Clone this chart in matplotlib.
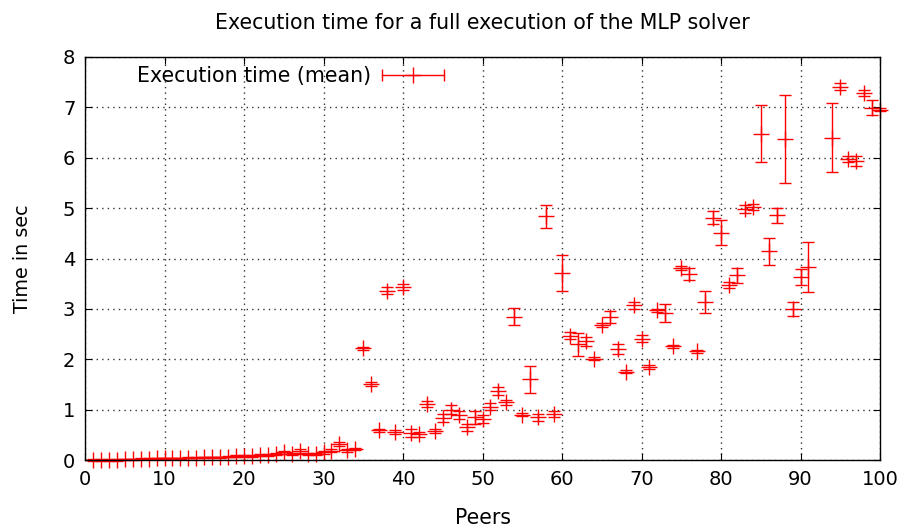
import matplotlib
matplotlib.use("Agg")
import matplotlib.pyplot as plt
from matplotlib.lines import Line2D
from matplotlib.legend_handler import HandlerBase

# mean execution time per number of peers, with std deviation
peers = list(range(1, 92)) + [94, 95, 96, 97, 98, 99, 100]
times = [0.00, 0.00, 0.00, 0.00, 0.01, 0.01, 0.02, 0.02, 0.03, 0.03,
         0.03, 0.03, 0.04, 0.04, 0.05, 0.05, 0.05, 0.06, 0.07, 0.08,
         0.08, 0.09, 0.10, 0.12, 0.15, 0.11, 0.18, 0.11, 0.12, 0.15,
         0.18, 0.31, 0.19, 0.21, 2.22, 1.50, 0.59, 3.36, 0.55, 3.44,
         0.54, 0.51, 1.11, 0.57, 0.84, 1.00, 0.90, 0.65, 0.85, 0.82,
         1.06, 1.37, 1.15, 2.84, 0.90, 1.60, 0.85, 4.84, 0.92, 3.71,
         2.47, 2.30, 2.36, 2.01, 2.68, 2.84, 2.21, 1.75, 3.07, 2.41,
         1.85, 2.97, 2.92, 2.26, 3.81, 3.70, 2.16, 3.14, 4.81, 4.51,
         3.47, 3.67, 4.99, 5.03, 6.48, 4.14, 4.86, 6.37, 2.99, 3.63,
         3.83, 6.40, 7.41, 5.97, 5.94, 7.28, 6.99, 6.95]
errors = [0.01, 0.01, 0.01, 0.01, 0.01, 0.01, 0.01, 0.01, 0.01, 0.01,
          0.01, 0.01, 0.01, 0.01, 0.01, 0.01, 0.01, 0.01, 0.02, 0.02,
          0.02, 0.02, 0.02, 0.02, 0.03, 0.02, 0.04, 0.02, 0.02, 0.03,
          0.03, 0.04, 0.03, 0.02, 0.03, 0.04, 0.03, 0.07, 0.04, 0.06,
          0.08, 0.05, 0.06, 0.04, 0.08, 0.09, 0.08, 0.07, 0.13, 0.08,
          0.07, 0.07, 0.05, 0.17, 0.03, 0.27, 0.07, 0.23, 0.06, 0.36,
          0.07, 0.23, 0.09, 0.03, 0.04, 0.12, 0.10, 0.03, 0.07, 0.07,
          0.04, 0.03, 0.18, 0.03, 0.04, 0.12, 0.03, 0.22, 0.13, 0.25,
          0.06, 0.15, 0.08, 0.06, 0.56, 0.26, 0.15, 0.88, 0.14, 0.16,
          0.50, 0.69, 0.07, 0.06, 0.10, 0.06, 0.15, 0.03]


class ErrorKey(HandlerBase):
    # gnuplot-like key sample: horizontal bar with end ticks and a "+"
    def create_artists(self, legend, orig_handle, xdescent, ydescent,
                       width, height, fontsize, trans):
        y = 0.5 * height - ydescent
        x0, x1 = -xdescent, width - xdescent
        bar = Line2D([x0, x1], [y, y], color="red", lw=1)
        ends = Line2D([x0, x1], [y, y], ls="none", marker="|", ms=9,
                      mew=1, color="red")
        plus = Line2D([(x0 + x1) / 2], [y], ls="none", marker="+", ms=11.5,
                      mew=1, color="red")
        for a in (bar, ends, plus):
            a.set_transform(trans)
        return [bar, ends, plus]


fig = plt.figure(figsize=(9.06, 5.29), dpi=100)
ax = fig.add_axes([85 / 906, 1 - 460 / 529, 795 / 906, 403 / 529])

eb = ax.errorbar(peers, times, yerr=errors, fmt="+", color="red", ms=11.5,
                 mew=1, elinewidth=1, capsize=4, capthick=1)
for art in eb.get_children():
    art.set_clip_on(False)

ax.set_xlim(0, 100)
ax.set_ylim(0, 8)
ax.set_xticks(range(0, 101, 10))
ax.set_yticks(range(0, 9))
ax.grid(True, ls=(0, (1, 3)), color="0.2", lw=1)
ax.set_axisbelow(True)
ax.tick_params(direction="in", length=5, top=True, right=True,
               labelsize=14, pad=7)
for s in ax.spines.values():
    s.set_linewidth(1)

ax.set_title("Execution time for a full execution of the MLP solver",
             fontsize=14.8, pad=20)
ax.set_xlabel("Peers", fontsize=14.8, labelpad=14)
ax.set_ylabel("Time in sec", fontsize=13.8, labelpad=22)

proxy = Line2D([], [], color="red")
ax.legend([proxy], ["Execution time (mean)"], handler_map={proxy: ErrorKey()},
          loc="center left", bbox_to_anchor=(0.065, 0.953), frameon=False,
          markerfirst=False, fontsize=14.8, handlelength=3.0, borderpad=0,
          borderaxespad=0, handletextpad=0.55)

fig.savefig("out.png", dpi=100)
